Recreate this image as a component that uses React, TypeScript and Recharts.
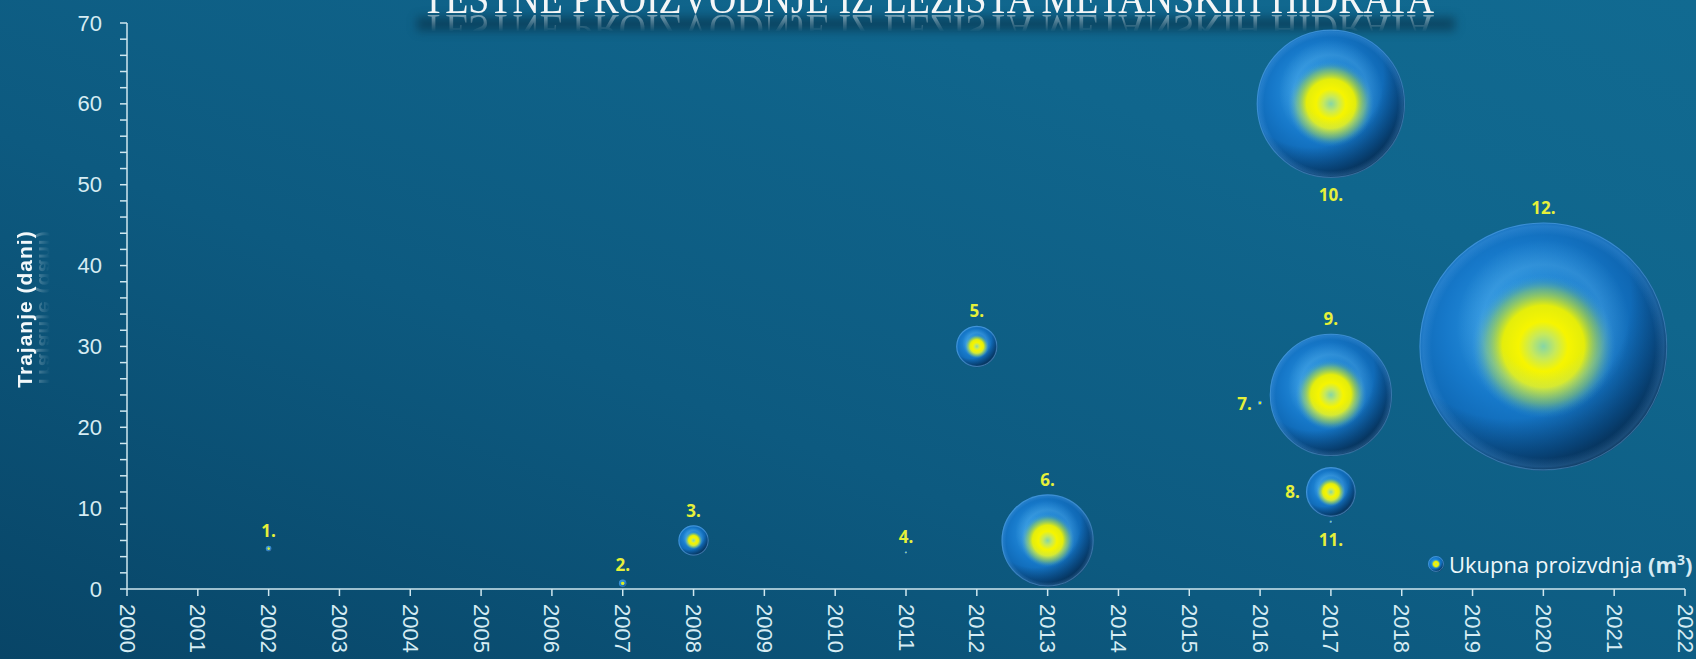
import { ScatterChart, Scatter, XAxis, YAxis, ZAxis, Legend } from 'recharts'

// redni broj testa
const testLabels = ['1.', '2.', '3.', '4.', '5.', '6.', '7.', '8.', '9.', '10.', '11.', '12.']
// godina testa
const testYears = [2002, 2007, 2008, 2011, 2012, 2013, 2016, 2017, 2017, 2017, 2017, 2020]
// trajanje (dani)
const testDays = [5, 0.7, 6, 4.5, 30, 6, 23, 12, 24, 60, 8.3, 30]
// ukupna proizvodnja (m3)
const testProduction = [470, 830, 13000, 95, 24000, 119500, 300, 35000, 210000, 309000, 120, 861400]

const yearTicks = [
  2000, 2001, 2002, 2003, 2004, 2005, 2006, 2007, 2008, 2009, 2010, 2011,
  2012, 2013, 2014, 2015, 2016, 2017, 2018, 2019, 2020, 2021, 2022,
]
const dayTicks = [
  0, 2, 4, 6, 8, 10, 12, 14, 16, 18, 20, 22, 24, 26, 28, 30, 32, 34, 36,
  38, 40, 42, 44, 46, 48, 50, 52, 54, 56, 58, 60, 62, 64, 66, 68, 70,
]

const data = testLabels.map((label, i) => ({
  label,
  x: testYears[i],
  y: testDays[i],
  z: testProduction[i],
}))

// gdje ide oznaka u odnosu na mjehuric
const labelSide: Record<string, 'top' | 'left' | 'bottom'> = {
  '7.': 'left',
  '8.': 'left',
  '10.': 'bottom',
  '11.': 'bottom',
}

const AXIS = '#cfe7ef'
const TICK_TEXT = '#d6ecf3'
const LABEL_YELLOW = '#e6f03a'
const MAX_R = 124

const Bubble = (props: any) => {
  const { cx, cy, width, payload } = props
  const r = Math.max((width || 0) / 2, 1)
  const side = labelSide[payload.label] ?? 'top'
  let lx = cx
  let ly = cy - r - 8.5
  let anchor: 'middle' | 'end' = 'middle'
  if (side === 'bottom') ly = cy + r + 22.5
  if (side === 'left') {
    lx = cx - r - 6
    ly = cy + 6.5
    anchor = 'end'
  }
  return (
    <g>
      <circle cx={cx} cy={cy} r={r} fill="url(#bBase)" />
      <circle cx={cx} cy={cy} r={r} fill="url(#bGlow)" />
      <circle cx={cx} cy={cy} r={r} fill="url(#bHi)" />
      <circle cx={cx} cy={cy} r={r} fill="url(#bShade)" />
      <circle cx={cx} cy={cy} r={r} fill="url(#bRim)" />
      <circle cx={cx} cy={cy} r={Math.max(r - 0.6, 0.5)} fill="none" stroke="#6fb6ee" strokeOpacity={0.4} strokeWidth={1.1} />
      <text
        x={lx}
        y={ly}
        textAnchor={anchor}
        fill={LABEL_YELLOW}
        fontFamily='"Open Sans", "Liberation Sans", sans-serif'
        fontWeight={700}
        fontSize={17}
      >
        {payload.label}
      </text>
    </g>
  )
}

const XTick = (props: any) => {
  const { x, y, payload } = props
  return (
    <text
      x={x}
      y={y}
      transform={`rotate(90, ${x}, ${y})`}
      textAnchor="start"
      dominantBaseline="central"
      fill={TICK_TEXT}
      fontFamily='"Liberation Sans", Arial, sans-serif'
      fontSize={22}
    >
      {payload.value}
    </text>
  )
}

const YTick = (props: any) => {
  const { x, y, payload } = props
  if (payload.value % 10 !== 0) return <g />
  return (
    <text
      x={x}
      y={y}
      textAnchor="end"
      dominantBaseline="central"
      fill={TICK_TEXT}
      fontFamily='"Liberation Sans", Arial, sans-serif'
      fontSize={22}
    >
      {payload.value}
    </text>
  )
}

const LegendContent = () => (
  <div
    style={{
      display: 'flex',
      alignItems: 'center',
      whiteSpace: 'nowrap',
      fontFamily: '"Open Sans", sans-serif',
      fontSize: 22,
      color: '#eef7fa',
      lineHeight: '26px',
    }}
  >
    <svg width={18} height={18} style={{ marginRight: 4, flex: 'none' }}>
      <circle cx={9} cy={9} r={8} fill="url(#bBase)" />
      <circle cx={9} cy={9} r={8} fill="url(#bGlow)" />
      <circle cx={9} cy={9} r={8} fill="url(#bShade)" />
      <circle cx={9} cy={9} r={7.5} fill="none" stroke="#6fb6ee" strokeOpacity={0.5} />
    </svg>
    <span>Ukupna proizvdnja&nbsp;</span>
    <span style={{ fontWeight: 700, color: '#d5eaf3' }}>
      (m<sup style={{ fontSize: 14, lineHeight: 0 }}>3</sup>)
    </span>
  </div>
)

export default function App() {
  return (
    <div
      style={{
        position: 'absolute',
        left: 0,
        top: 0,
        width: 1696,
        height: 659,
        overflow: 'hidden',
        background: 'linear-gradient(to top right, #084567 0%, #0d5a80 40%, #10668d 75%, #116a91 100%)',
        fontFamily: '"Liberation Sans", Arial, sans-serif',
      }}
    >
      <svg width={0} height={0} style={{ position: 'absolute' }}>
        <defs>
          <radialGradient id="bBase" cx="0.42" cy="0.42" r="0.64">
            <stop offset="0" stopColor="#34a2ec" />
            <stop offset="0.5" stopColor="#1678c9" />
            <stop offset="0.82" stopColor="#0c61ab" />
            <stop offset="1" stopColor="#0a5190" />
          </radialGradient>
          <radialGradient id="bGlow" cx="0.5" cy="0.5" r="0.5">
            <stop offset="0" stopColor="#86d6a6" stopOpacity={1} />
            <stop offset="0.1" stopColor="#c6e95c" stopOpacity={1} />
            <stop offset="0.2" stopColor="#f6f500" stopOpacity={1} />
            <stop offset="0.33" stopColor="#eef200" stopOpacity={0.95} />
            <stop offset="0.46" stopColor="#b0dc3a" stopOpacity={0.45} />
            <stop offset="0.58" stopColor="#3aa0e0" stopOpacity={0} />
          </radialGradient>
          <radialGradient id="bHi" cx="0.5" cy="0.42" r="0.5">
            <stop offset="0.36" stopColor="#8fdcff" stopOpacity={0} />
            <stop offset="0.5" stopColor="#8fdcff" stopOpacity={0.18} />
            <stop offset="0.7" stopColor="#8fdcff" stopOpacity={0} />
          </radialGradient>
          <radialGradient id="bShade" cx="0.36" cy="0.3" r="0.82">
            <stop offset="0" stopColor="#02101f" stopOpacity={0} />
            <stop offset="0.6" stopColor="#02101f" stopOpacity={0} />
            <stop offset="0.85" stopColor="#02101f" stopOpacity={0.5} />
            <stop offset="1" stopColor="#02101f" stopOpacity={0.88} />
          </radialGradient>
          <radialGradient id="bRim" cx="0.5" cy="0.5" r="0.5">
            <stop offset="0.9" stopColor="#5aaaf0" stopOpacity={0} />
            <stop offset="0.97" stopColor="#5aaaf0" stopOpacity={0.25} />
            <stop offset="1" stopColor="#5aaaf0" stopOpacity={0.1} />
          </radialGradient>
        </defs>
      </svg>

      {/* sjena ispod naslova */}
      <div
        style={{
          position: 'absolute',
          left: 417,
          top: 17,
          width: 1038,
          height: 14,
          background: 'rgba(4, 30, 48, 0.45)',
          filter: 'blur(5px)',
        }}
      />

      <ScatterChart width={1696} height={659} margin={{ top: 23, right: 11, bottom: 0, left: 0 }}>
        <XAxis
          type="number"
          dataKey="x"
          domain={[2000, 2022]}
          ticks={yearTicks}
          interval={0}
          height={70}
          allowDecimals={false}
          axisLine={{ stroke: AXIS, strokeWidth: 1.5 }}
          tickLine={{ stroke: AXIS, strokeWidth: 1.5 }}
          tickSize={7}
          tickMargin={8}
          tick={<XTick />}
        />
        <YAxis
          type="number"
          dataKey="y"
          domain={[0, 70]}
          ticks={dayTicks}
          interval={0}
          width={127}
          axisLine={{ stroke: AXIS, strokeWidth: 1.5 }}
          tickLine={{ stroke: AXIS, strokeWidth: 1.5 }}
          tickSize={7}
          tickMargin={18}
          tick={<YTick />}
        />
        <ZAxis type="number" dataKey="z" domain={[0, 861400]} range={[0, Math.PI * MAX_R * MAX_R]} />
        <Legend
          layout="horizontal"
          verticalAlign="middle"
          align="center"
          content={<LegendContent />}
          wrapperStyle={{ position: 'absolute', left: 1427, top: 551, width: 320, height: 26 }}
        />
        <Scatter name="Ukupna proizvdnja (m³)" data={data} shape={Bubble} isAnimationActive={false} />
      </ScatterChart>

      {/* naslov, gornji dio odrezan kao na izvorniku */}
      <div
        style={{
          position: 'absolute',
          left: 0,
          top: -30,
          width: 1696,
          height: 44,
          WebkitBoxReflect: 'below 0px linear-gradient(transparent 60%, rgba(255,255,255,0.5))',
        } as any}
      >
        <svg width={1696} height={44}>
          <text
            x={422}
            y={43}
            textLength={1012}
            lengthAdjust="spacingAndGlyphs"
            fill="#f4f6f7"
            fontFamily='"Liberation Serif", "DejaVu Serif", serif'
            fontSize={42}
          >
            TESTNE PROIZVODNJE IZ LEŽIŠTA METANSKIH HIDRATA
          </text>
        </svg>
      </div>

      {/* naslov osi y */}
      <div
        style={{
          position: 'absolute',
          left: -65,
          top: 296,
          width: 180,
          height: 26,
          lineHeight: '26px',
          textAlign: 'center',
          whiteSpace: 'nowrap',
          transform: 'rotate(-90deg)',
          color: '#f2f8fa',
          fontWeight: 700,
          fontSize: 21,
          letterSpacing: 1,
          WebkitBoxReflect: 'below -5px linear-gradient(transparent 35%, rgba(255,255,255,0.35))',
        } as any}
      >
        Trajanje (dani)
      </div>
    </div>
  )
}
